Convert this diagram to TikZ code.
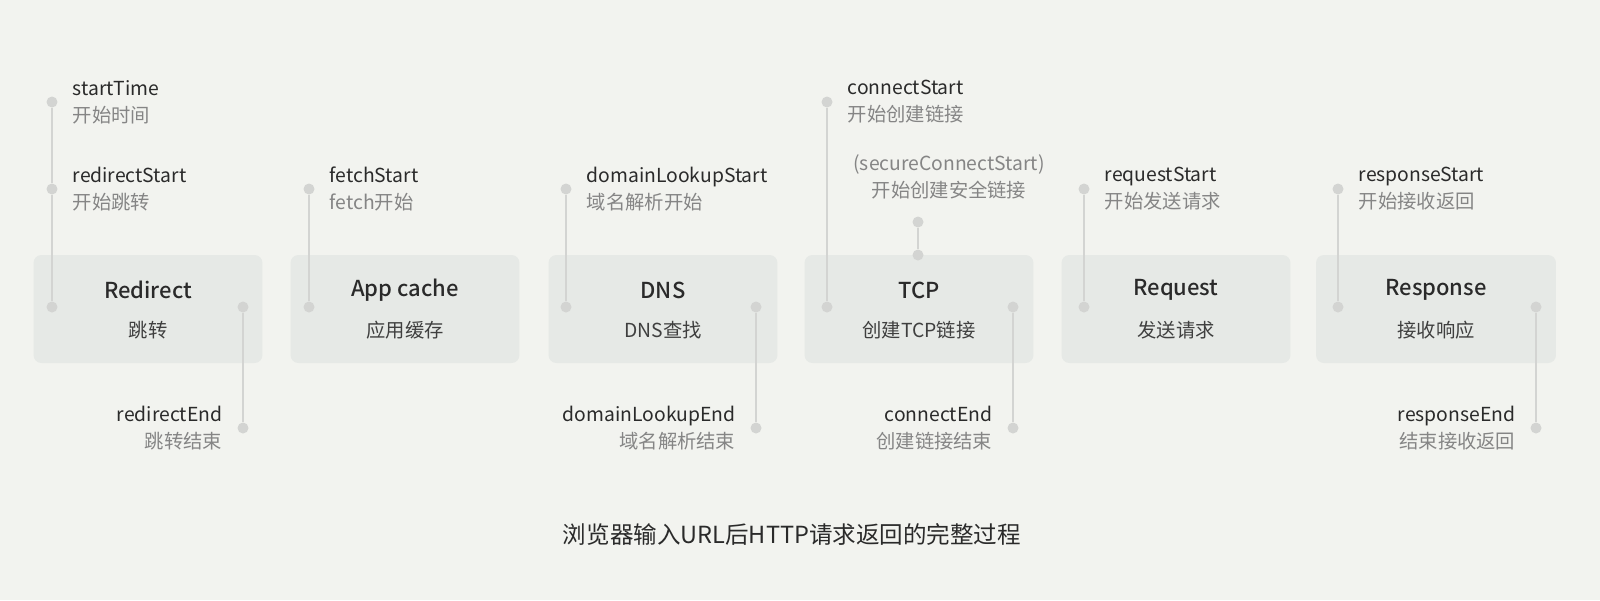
\documentclass[tikz,border=0pt]{standalone}
\usepackage{fontspec}
\setmainfont{Noto Sans CJK SC}[BoldFont={Noto Sans CJK SC Medium}]
\usetikzlibrary{positioning}

\definecolor{bgpaper}{HTML}{F2F3EF}
\definecolor{phasefill}{HTML}{E6E9E6}
\definecolor{dotgray}{HTML}{D3D4D2}
\definecolor{ink}{HTML}{2A2A2A}
\definecolor{subink}{HTML}{858585}

\begin{document}
\begin{tikzpicture}[x=0.02cm, y=-0.02cm,
  phase/.style={fill=phasefill, rounded corners=4.5pt, minimum height=2.16cm, inner sep=0pt},
  phasetitle/.style={font=\bfseries\fontsize{12.5}{15}\selectfont, text=ink},
  phasesub/.style={font=\fontsize{11}{13}\selectfont, text=ink!90},
  tdot/.style={circle, fill=dotgray, inner sep=0pt, minimum size=0.22cm},
  tline/.style={draw=dotgray, line width=1.1pt},
  evt/.style={font=\fontsize{11}{15.3}\selectfont, text=ink, inner sep=0pt}]

  % Paper
  \fill[bgpaper] (0,0) rectangle (1600,600);

  % Phases of the request
  \foreach \name/\cx/\w/\en/\cn in {redirect/148/4.58cm/Redirect/跳转,
      appcache/405/4.58cm/App cache/应用缓存,
      dns/663/4.58cm/DNS/DNS查找,
      tcp/919/4.58cm/TCP/创建TCP链接,
      request/1176/4.58cm/Request/发送请求,
      response/1436/4.80cm/Response/接收响应} {
    \node[phase, minimum width=\w] (\name) at (\cx,309) {};
    \node[phasetitle] (\name-en) at (\cx,290) {\en};
    \node[phasesub] (\name-cn) at (\cx,330) {\cn};
  }

  % Timing points
  \node[tdot] (starttime) at (52,102) {};
  \foreach \name/\px/\py in {redirectstart/52/189, redirectin/52/307, redirectend/243/428, redirectout/243/307,
      fetchstart/309/189, fetchin/309/307,
      lookupstart/566/189, lookupin/566/307, lookupend/756/428, lookupout/756/307,
      connectstart/827/102, connectin/827/307, connectend/1013/428, connectout/1013/307,
      securestart/918/222, securein/918/255,
      requeststart/1084/189, requestin/1084/307,
      responsestart/1338/189, responsein/1338/307, responseend/1536/428, responseout/1536/307}
    \node[tdot] (\name) at (\px,\py) {};

  % Lines between the points
  \draw[tline] (starttime) -- (redirectstart) -- (redirectin);
  \draw[tline] (redirectout) -- (redirectend);
  \draw[tline] (fetchstart) -- (fetchin);
  \draw[tline] (lookupstart) -- (lookupin);
  \draw[tline] (lookupout) -- (lookupend);
  \draw[tline] (connectstart) -- (connectin);
  \draw[tline] (securestart) -- (securein);
  \draw[tline] (connectout) -- (connectend);
  \draw[tline] (requeststart) -- (requestin);
  \draw[tline] (responsestart) -- (responsein);
  \draw[tline] (responseout) -- (responseend);

  % Labels at start points
  \foreach \name/\en/\cn in {starttime/startTime/开始时间, redirectstart/redirectStart/开始跳转,
      fetchstart/fetchStart/fetch开始, lookupstart/domainLookupStart/域名解析开始,
      connectstart/connectStart/开始创建链接, requeststart/requestStart/开始发送请求,
      responsestart/responseStart/开始接收返回}
    \node[evt, align=left, right=0.29cm of \name] (\name-lbl) {\en\\{\color{subink}\cn}};

  % Labels at end points
  \foreach \name/\en/\cn in {redirectend/redirectEnd/跳转结束, lookupend/domainLookupEnd/域名解析结束,
      connectend/connectEnd/创建链接结束, responseend/responseEnd/结束接收返回}
    \node[evt, align=right, left=0.29cm of \name] (\name-lbl) {\en\\{\color{subink}\cn}};

  \node[evt, align=center, text=subink] (securestart-lbl) at (949,177) {(secureConnectStart)\\开始创建安全链接};

  % Caption
  \node[font=\fontsize{13.4}{16}\selectfont, text=ink] (caption) at (792,534) {浏览器输入URL后HTTP请求返回的完整过程};

\end{tikzpicture}
\end{document}
